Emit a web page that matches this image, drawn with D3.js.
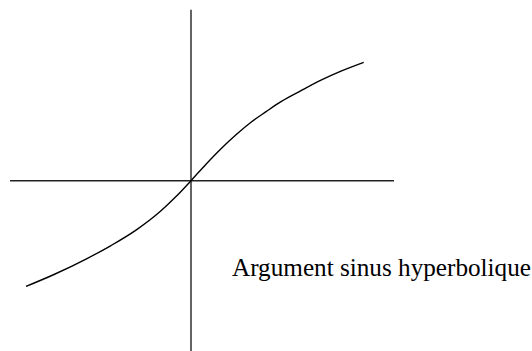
<!DOCTYPE html>
<html>
<head>
<meta charset="utf-8">
<script src="https://cdn.jsdelivr.net/npm/d3@7"></script>
<style>
html,body{margin:0;padding:0;background:#fff;}
svg{display:block;}
</style>
</head>
<body>
<svg id="chart" width="532" height="351"></svg>
<script>
// Curve points (x, y in plot units)
const xValues = [-4.125, -3.425, -2.6, -2.0, -1.375, -0.75, -0.375, 0, 0.375, 0.75, 1.125, 1.5, 1.875, 2.25, 2.75, 3.25, 3.75, 4.3175];
const yValues = [-2.6425, -2.345, -1.946, -1.621, -1.235, -0.752, -0.397, 0, 0.4125, 0.8, 1.15, 1.4625, 1.725, 1.975, 2.25, 2.5125, 2.7375, 2.9575];
// Axis extents (plot units)
const xAxisExtent = [-4.525, 5.075];
const yAxisExtent = [-4.3, 4.275];
const label = "Argument sinus hyperbolique";

const svg = d3.select("#chart");
const x = d3.scaleLinear().domain([0, 1]).range([191, 231]);
const y = d3.scaleLinear().domain([0, 1]).range([180.7, 140.7]);

svg.append("line")
  .attr("x1", x(xAxisExtent[0])).attr("x2", x(xAxisExtent[1]))
  .attr("y1", y(0)).attr("y2", y(0))
  .attr("stroke", "#222").attr("stroke-width", 1.4);
svg.append("line")
  .attr("x1", x(0)).attr("x2", x(0))
  .attr("y1", y(yAxisExtent[1])).attr("y2", y(yAxisExtent[0]))
  .attr("stroke", "#222").attr("stroke-width", 1.4);

const pts = xValues.map((v, i) => [v, yValues[i]]);
const line = d3.line().x(d => x(d[0])).y(d => y(d[1])).curve(d3.curveMonotoneX);
svg.append("path").datum(pts)
  .attr("d", line)
  .attr("fill", "none").attr("stroke", "#000").attr("stroke-width", 1.4);

svg.append("text")
  .attr("x", 232).attr("y", 276)
  .attr("font-family", "'Liberation Serif', 'Times New Roman', serif")
  .attr("font-size", 25.2)
  .attr("fill", "#000")
  .text(label);
</script>
</body>
</html>
